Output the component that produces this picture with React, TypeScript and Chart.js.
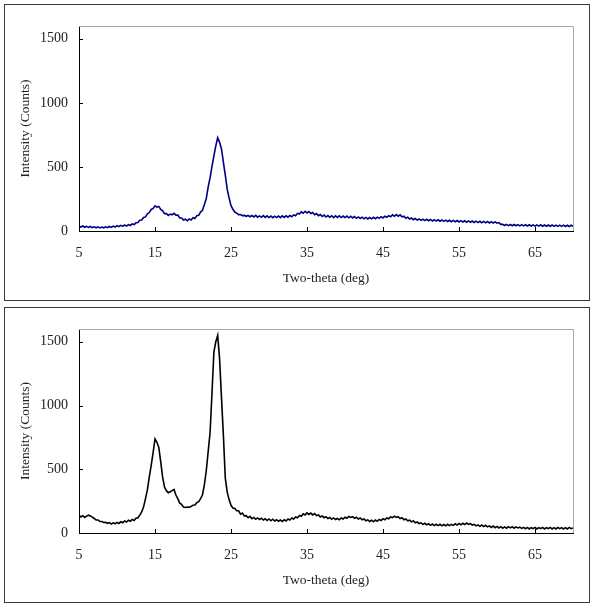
import React, { useEffect, useRef } from "react";
import { Chart, registerables } from "chart.js";

Chart.register(...registerables);

// 2-theta scan: 5 to 70 deg, 0.25 deg step
const START_DEG = 5;
const STEP_DEG = 0.25;

const xTickValues = [5, 15, 25, 35, 45, 55, 65];
const yTickValues = [0, 500, 1000, 1500];
const xTitle = "Two-theta (deg)";
const yTitle = "Intensity (Counts)";

// upper pattern (navy)
const topCounts = [
  38, 31, 39, 29, 36, 28, 35, 26,
  33, 25, 32, 24, 31, 25, 33, 26,
  35, 28, 38, 31, 42, 34, 44, 36,
  47, 38, 50, 43, 55, 50, 64, 66,
  84, 86, 106, 110, 134, 144, 168, 176,
  197, 186, 192, 168, 158, 136, 136, 122,
  132, 126, 138, 124, 124, 102, 102, 86,
  92, 80, 94, 86, 104, 98, 120, 122,
  148, 162, 206, 254, 344, 416, 504, 586,
  664, 728, 692, 640, 536, 436, 326, 258,
  198, 170, 148, 140, 128, 128, 120, 122,
  115, 121, 111, 121, 110, 122, 108, 118,
  107, 120, 106, 118, 105, 117, 104, 116,
  105, 117, 104, 118, 106, 119, 108, 121,
  111, 126, 119, 138, 133, 150, 139, 154,
  141, 152, 137, 144, 127, 136, 120, 129,
  113, 124, 109, 120, 107, 119, 105, 118,
  106, 118, 105, 117, 105, 116, 103, 115,
  102, 113, 99, 110, 98, 108, 95, 106,
  94, 105, 95, 107, 96, 108, 99, 112,
  102, 115, 107, 120, 111, 126, 115, 128,
  116, 126, 110, 116, 100, 108, 94, 101,
  88, 97, 85, 94, 83, 92, 81, 91,
  80, 90, 78, 88, 77, 87, 76, 86,
  75, 85, 74, 84, 73, 83, 72, 82,
  71, 81, 70, 80, 69, 79, 68, 78,
  67, 77, 66, 76, 65, 75, 64, 74,
  63, 73, 62, 71, 61, 66, 52, 52,
  43, 52, 42, 51, 41, 51, 41, 50,
  40, 50, 40, 49, 39, 49, 39, 48,
  38, 48, 38, 48, 37, 47, 37, 47,
  37, 47, 36, 46, 36, 46, 36, 46,
  35, 45, 35, 45, 37,
];

// lower pattern (black)
const bottomCounts = [
  138, 126, 136, 122, 132, 140, 134, 124,
  114, 102, 102, 90, 90, 82, 84, 76,
  82, 71, 80, 72, 83, 75, 88, 80,
  94, 86, 100, 92, 106, 98, 116, 120,
  140, 165, 205, 270, 340, 440, 530, 630,
  738, 712, 672, 560, 440, 360, 332, 316,
  324, 332, 342, 298, 270, 234, 224, 203,
  200, 204, 202, 208, 218, 220, 238, 246,
  270, 300, 380, 490, 640, 790, 1100, 1420,
  1500, 1550, 1364, 1060, 764, 430, 320, 262,
  217, 196, 192, 174, 174, 148, 156, 134,
  136, 120, 130, 112, 122, 108, 118, 106,
  116, 102, 112, 98, 110, 96, 108, 94,
  104, 92, 102, 91, 104, 94, 110, 102,
  118, 110, 126, 120, 138, 132, 150, 142,
  158, 146, 156, 142, 152, 136, 142, 126,
  134, 120, 128, 114, 122, 108, 118, 106,
  114, 104, 118, 110, 124, 116, 130, 122,
  128, 116, 124, 110, 118, 104, 110, 96,
  102, 90, 100, 88, 102, 92, 106, 98,
  112, 104, 118, 112, 126, 120, 132, 122,
  128, 114, 120, 104, 110, 96, 100, 88,
  94, 80, 86, 74, 80, 68, 76, 64,
  72, 60, 70, 58, 68, 58, 68, 56,
  66, 56, 68, 58, 68, 60, 72, 62,
  74, 64, 76, 66, 78, 68, 74, 62,
  68, 56, 64, 52, 62, 50, 60, 48,
  56, 44, 54, 42, 52, 40, 50, 38,
  48, 38, 50, 40, 50, 38, 48, 40,
  46, 36, 44, 34, 44, 32, 42, 34,
  44, 32, 42, 34, 44, 32, 42, 34,
  44, 32, 42, 32, 44, 34, 42, 32,
  42, 32, 44, 34, 40,
];

const FONT = "'Liberation Serif', 'Times New Roman', serif";
const TEXT = "#222222";

const framePlugin = {
  id: "frameTicks",
  beforeDatasetsDraw(chart: any) {
    const { ctx, chartArea, scales } = chart;
    const { left, right, top, bottom } = chartArea;
    ctx.save();
    ctx.lineWidth = 1;
    ctx.strokeStyle = "#a8a8a8";
    ctx.beginPath();
    ctx.moveTo(left, top + 0.5);
    ctx.lineTo(right + 0.5, top + 0.5);
    ctx.lineTo(right + 0.5, bottom);
    ctx.stroke();
    ctx.strokeStyle = "#000000";
    ctx.beginPath();
    for (const v of yTickValues) {
      const p = Math.round(scales.y.getPixelForValue(v)) + 0.5;
      ctx.moveTo(left, p);
      ctx.lineTo(left + 4, p);
    }
    for (const v of xTickValues) {
      const p = Math.round(scales.x.getPixelForValue(v)) + 0.5;
      ctx.moveTo(p, bottom);
      ctx.lineTo(p, bottom - 4);
    }
    ctx.stroke();
    ctx.restore();
  },
};

function Panel(props: { top: number; height: number; counts: number[]; color: string; xAxisHeight: number }) {
  const ref = useRef<HTMLCanvasElement | null>(null);
  const innerH = props.height - 2;
  useEffect(() => {
    const points = props.counts.map((c, i) => ({ x: START_DEG + i * STEP_DEG, y: c }));
    const chart = new Chart(ref.current as HTMLCanvasElement, {
      type: "line",
      data: {
        datasets: [
          {
            data: points,
            borderColor: props.color,
            borderWidth: 1.6,
            pointRadius: 0,
            tension: 0,
            fill: false,
          },
        ],
      },
      options: {
        animation: false,
        responsive: false,
        devicePixelRatio: 1,
        layout: { padding: { left: 0, right: 16, top: 21, bottom: 0 } },
        plugins: { legend: { display: false }, tooltip: { enabled: false } },
        scales: {
          x: {
            type: "linear",
            min: 5,
            max: 70,
            grid: { display: false, drawTicks: false },
            border: { display: true, color: "#000000", width: 1 },
            afterBuildTicks: (scale: any) => {
              scale.ticks = xTickValues.map((v) => ({ value: v }));
            },
            afterFit: (scale: any) => {
              scale.height = props.xAxisHeight;
            },
            ticks: {
              autoSkip: false,
              maxRotation: 0,
              padding: 14,
              color: TEXT,
              font: { family: FONT, size: 14 },
              callback: (v: any) => String(v),
            },
            title: {
              display: true,
              text: xTitle,
              color: TEXT,
              font: { family: FONT, size: 13.5 },
              padding: { top: 0, bottom: 13 },
            },
          },
          y: {
            type: "linear",
            min: 0,
            max: 1600,
            grid: { display: false, drawTicks: false },
            border: { display: true, color: "#000000", width: 1 },
            afterBuildTicks: (scale: any) => {
              scale.ticks = yTickValues.map((v) => ({ value: v }));
            },
            afterFit: (scale: any) => {
              scale.width = 74;
            },
            ticks: {
              autoSkip: false,
              padding: 11,
              color: TEXT,
              font: { family: FONT, size: 14 },
              callback: (v: any) => String(v),
            },
            title: {
              display: true,
              text: yTitle,
              color: TEXT,
              font: { family: FONT, size: 13.5 },
              padding: { top: 12, bottom: 0 },
            },
          },
        },
      },
      plugins: [framePlugin],
    });
    return () => chart.destroy();
  }, []);
  return (
    <div
      style={{
        position: "absolute",
        left: 4,
        top: props.top,
        width: 586,
        height: props.height,
        border: "1px solid #3a3a3a",
        boxSizing: "border-box",
        background: "#ffffff",
      }}
    >
      <canvas ref={ref} width={584} height={innerH} style={{ display: "block", width: 584, height: innerH }} />
    </div>
  );
}

export default function App() {
  return (
    <div style={{ position: "absolute", left: 0, top: 0, width: 600, height: 609, background: "#ffffff" }}>
      <Panel top={4} height={297} counts={topCounts} color="#000080" xAxisHeight={69} />
      <Panel top={307} height={296} counts={bottomCounts} color="#000000" xAxisHeight={69} />
    </div>
  );
}
